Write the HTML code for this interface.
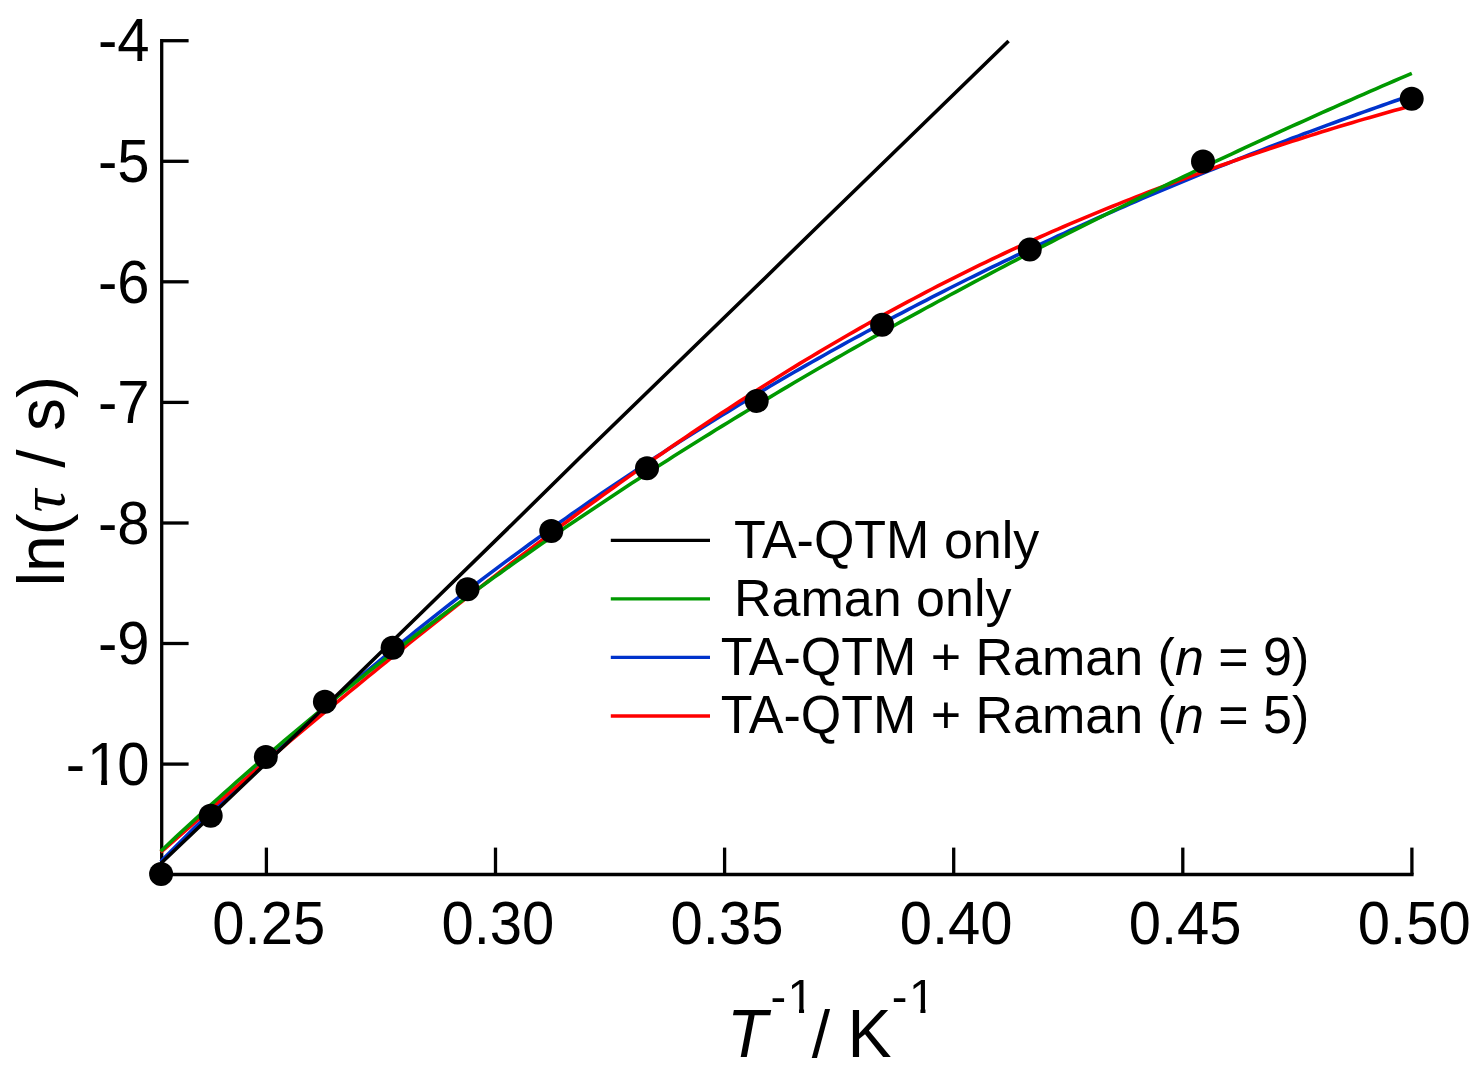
<!DOCTYPE html><html><head><meta charset="utf-8"><title>Relaxation time plot</title>
<style>html,body{margin:0;padding:0;background:#fff;}body{width:1483px;height:1083px;overflow:hidden;}svg{display:block;}text{font-family:"Liberation Sans",Arial,Helvetica,sans-serif;fill:#000;}</style></head><body>
<svg width="1483" height="1083" viewBox="0 0 1483 1083">
<rect width="1483" height="1083" fill="#fff"/>
<g stroke="#000" stroke-width="3.3" fill="none" stroke-linecap="butt">
<path d="M161.7 39.1 V874.5 H1413.6"/>
<path d="M161.7 764.1 H188.6"/>
<path d="M161.7 643.5 H188.6"/>
<path d="M161.7 523.0 H188.6"/>
<path d="M161.7 402.4 H188.6"/>
<path d="M161.7 281.8 H188.6"/>
<path d="M161.7 161.3 H188.6"/>
<path d="M161.7 40.7 H188.6"/>
<path d="M266.4 874.5 V847.6"/>
<path d="M495.5 874.5 V847.6"/>
<path d="M724.6 874.5 V847.6"/>
<path d="M953.7 874.5 V847.6"/>
<path d="M1182.8 874.5 V847.6"/>
<path d="M1411.9 874.5 V847.6"/>
</g>
<g fill="none" stroke-width="3.6" stroke-linejoin="round" stroke-linecap="butt">
<polyline stroke="#0033cc" points="160.7,861.7 164.0,858.3 170.0,852.3 176.0,846.2 182.0,840.3 188.0,834.3 194.0,828.4 200.0,822.5 206.0,816.7 212.0,810.8 218.0,805.1 224.0,799.3 230.0,793.6 236.0,787.9 242.0,782.2 248.0,776.6 254.0,771.0 260.0,765.5 266.0,759.9 272.0,754.4 278.0,749.0 284.0,743.5 290.0,738.1 296.0,732.7 302.0,727.4 308.0,722.0 314.0,716.7 320.0,711.5 326.0,706.2 332.0,701.0 338.0,695.8 344.0,690.7 350.0,685.6 356.0,680.5 362.0,675.4 368.0,670.3 374.0,665.3 380.0,660.3 386.0,655.4 392.0,650.4 398.0,645.5 404.0,640.6 410.0,635.8 416.0,630.9 422.0,626.1 428.0,621.4 434.0,616.6 440.0,611.9 446.0,607.2 452.0,602.5 458.0,597.8 464.0,593.2 470.0,588.6 476.0,584.0 482.0,579.4 488.0,574.9 494.0,570.4 500.0,565.9 506.0,561.4 512.0,557.0 518.0,552.6 524.0,548.2 530.0,543.8 536.0,539.5 542.0,535.1 548.0,530.8 554.0,526.5 560.0,522.3 566.0,518.1 572.0,513.8 578.0,509.6 584.0,505.5 590.0,501.3 596.0,497.2 602.0,493.1 608.0,489.0 614.0,484.9 620.0,480.9 626.0,476.9 632.0,472.9 638.0,468.9 644.0,464.9 650.0,461.0 656.0,457.1 662.0,453.2 668.0,449.3 674.0,445.4 680.0,441.6 686.0,437.8 692.0,434.0 698.0,430.2 704.0,426.4 710.0,422.7 716.0,419.0 722.0,415.3 728.0,411.6 734.0,407.9 740.0,404.3 746.0,400.7 752.0,397.0 758.0,393.5 764.0,389.9 770.0,386.3 776.0,382.8 782.0,379.3 788.0,375.8 794.0,372.3 800.0,368.9 806.0,365.4 812.0,362.0 818.0,358.6 824.0,355.2 830.0,351.8 836.0,348.5 842.0,345.2 848.0,341.8 854.0,338.5 860.0,335.3 866.0,332.0 872.0,328.8 878.0,325.5 884.0,322.3 890.0,319.1 896.0,315.9 902.0,312.8 908.0,309.6 914.0,306.5 920.0,303.4 926.0,300.3 932.0,297.2 938.0,294.1 944.0,291.1 950.0,288.0 956.0,285.0 962.0,282.0 968.0,279.0 974.0,276.1 980.0,273.1 986.0,270.2 992.0,267.2 998.0,264.3 1004.0,261.4 1010.0,258.6 1016.0,255.7 1022.0,252.8 1028.0,250.0 1034.0,247.2 1040.0,244.4 1046.0,241.6 1052.0,238.8 1058.0,236.0 1064.0,233.3 1070.0,230.5 1076.0,227.8 1082.0,225.1 1088.0,222.4 1094.0,219.7 1100.0,217.0 1106.0,214.4 1112.0,211.8 1118.0,209.1 1124.0,206.5 1130.0,203.9 1136.0,201.3 1142.0,198.7 1148.0,196.2 1154.0,193.6 1160.0,191.1 1166.0,188.6 1172.0,186.0 1178.0,183.5 1184.0,181.1 1190.0,178.6 1196.0,176.1 1202.0,173.7 1208.0,171.2 1214.0,168.8 1220.0,166.4 1226.0,164.0 1232.0,161.6 1238.0,159.2 1244.0,156.9 1250.0,154.5 1256.0,152.2 1262.0,149.8 1268.0,147.5 1274.0,145.2 1280.0,142.9 1286.0,140.6 1292.0,138.3 1298.0,136.1 1304.0,133.8 1310.0,131.6 1316.0,129.4 1322.0,127.1 1328.0,124.9 1334.0,122.7 1340.0,120.5 1346.0,118.4 1352.0,116.2 1358.0,114.0 1364.0,111.9 1370.0,109.8 1376.0,107.6 1382.0,105.5 1388.0,103.4 1394.0,101.3 1400.0,99.2 1406.0,97.2 1411.8,95.2"/>
<polyline stroke="#ff0000" points="160.7,852.2 164.0,849.3 170.0,844.1 176.0,838.8 182.0,833.6 188.0,828.4 194.0,823.2 200.0,818.0 206.0,812.8 212.0,807.6 218.0,802.4 224.0,797.3 230.0,792.1 236.0,787.0 242.0,781.9 248.0,776.8 254.0,771.6 260.0,766.5 266.0,761.5 272.0,756.4 278.0,751.3 284.0,746.3 290.0,741.2 296.0,736.2 302.0,731.2 308.0,726.2 314.0,721.2 320.0,716.2 326.0,711.2 332.0,706.2 338.0,701.3 344.0,696.3 350.0,691.4 356.0,686.5 362.0,681.6 368.0,676.7 374.0,671.8 380.0,666.9 386.0,662.0 392.0,657.2 398.0,652.3 404.0,647.5 410.0,642.7 416.0,637.9 422.0,633.1 428.0,628.3 434.0,623.6 440.0,618.8 446.0,614.1 452.0,609.3 458.0,604.6 464.0,599.9 470.0,595.2 476.0,590.6 482.0,585.9 488.0,581.2 494.0,576.6 500.0,572.0 506.0,567.4 512.0,562.8 518.0,558.2 524.0,553.7 530.0,549.1 536.0,544.6 542.0,540.1 548.0,535.6 554.0,531.1 560.0,526.6 566.0,522.2 572.0,517.8 578.0,513.3 584.0,508.9 590.0,504.6 596.0,500.2 602.0,495.8 608.0,491.5 614.0,487.2 620.0,482.9 626.0,478.6 632.0,474.4 638.0,470.1 644.0,465.9 650.0,461.7 656.0,457.5 662.0,453.4 668.0,449.2 674.0,445.1 680.0,441.0 686.0,436.9 692.0,432.8 698.0,428.8 704.0,424.8 710.0,420.8 716.0,416.8 722.0,412.8 728.0,408.9 734.0,405.0 740.0,401.1 746.0,397.2 752.0,393.4 758.0,389.6 764.0,385.8 770.0,382.0 776.0,378.2 782.0,374.5 788.0,370.8 794.0,367.1 800.0,363.4 806.0,359.8 812.0,356.2 818.0,352.6 824.0,349.0 830.0,345.5 836.0,342.0 842.0,338.5 848.0,335.0 854.0,331.6 860.0,328.1 866.0,324.7 872.0,321.4 878.0,318.0 884.0,314.7 890.0,311.4 896.0,308.1 902.0,304.9 908.0,301.7 914.0,298.5 920.0,295.3 926.0,292.1 932.0,289.0 938.0,285.9 944.0,282.8 950.0,279.8 956.0,276.8 962.0,273.8 968.0,270.8 974.0,267.9 980.0,264.9 986.0,262.1 992.0,259.2 998.0,256.3 1004.0,253.5 1010.0,250.7 1016.0,247.9 1022.0,245.2 1028.0,242.4 1034.0,239.7 1040.0,237.0 1046.0,234.4 1052.0,231.7 1058.0,229.1 1064.0,226.5 1070.0,223.9 1076.0,221.4 1082.0,218.9 1088.0,216.3 1094.0,213.8 1100.0,211.4 1106.0,208.9 1112.0,206.5 1118.0,204.1 1124.0,201.7 1130.0,199.3 1136.0,197.0 1142.0,194.6 1148.0,192.3 1154.0,190.0 1160.0,187.7 1166.0,185.4 1172.0,183.2 1178.0,181.0 1184.0,178.8 1190.0,176.6 1196.0,174.4 1202.0,172.2 1208.0,170.1 1214.0,167.9 1220.0,165.8 1226.0,163.7 1232.0,161.6 1238.0,159.5 1244.0,157.4 1250.0,155.4 1256.0,153.4 1262.0,151.3 1268.0,149.3 1274.0,147.3 1280.0,145.3 1286.0,143.4 1292.0,141.4 1298.0,139.5 1304.0,137.5 1310.0,135.6 1316.0,133.7 1322.0,131.8 1328.0,130.0 1334.0,128.1 1340.0,126.3 1346.0,124.5 1352.0,122.7 1358.0,120.9 1364.0,119.1 1370.0,117.4 1376.0,115.7 1382.0,114.0 1388.0,112.3 1394.0,110.6 1400.0,109.0 1406.0,107.3 1411.8,105.8"/>
<polyline stroke="#009900" points="160.7,851.3 164.0,848.2 170.0,842.5 176.0,836.9 182.0,831.3 188.0,825.8 194.0,820.3 200.0,814.8 206.0,809.3 212.0,803.9 218.0,798.5 224.0,793.1 230.0,787.8 236.0,782.4 242.0,777.2 248.0,771.9 254.0,766.7 260.0,761.5 266.0,756.3 272.0,751.1 278.0,746.0 284.0,740.9 290.0,735.9 296.0,730.8 302.0,725.8 308.0,720.8 314.0,715.8 320.0,710.9 326.0,706.0 332.0,701.1 338.0,696.2 344.0,691.4 350.0,686.6 356.0,681.8 362.0,677.0 368.0,672.2 374.0,667.5 380.0,662.8 386.0,658.1 392.0,653.5 398.0,648.8 404.0,644.2 410.0,639.6 416.0,635.0 422.0,630.5 428.0,626.0 434.0,621.5 440.0,617.0 446.0,612.5 452.0,608.0 458.0,603.6 464.0,599.2 470.0,594.8 476.0,590.4 482.0,586.1 488.0,581.8 494.0,577.4 500.0,573.2 506.0,568.9 512.0,564.6 518.0,560.4 524.0,556.2 530.0,552.0 536.0,547.8 542.0,543.6 548.0,539.5 554.0,535.3 560.0,531.2 566.0,527.1 572.0,523.0 578.0,519.0 584.0,514.9 590.0,510.9 596.0,506.9 602.0,502.9 608.0,498.9 614.0,494.9 620.0,491.0 626.0,487.0 632.0,483.1 638.0,479.2 644.0,475.3 650.0,471.5 656.0,467.6 662.0,463.8 668.0,459.9 674.0,456.1 680.0,452.3 686.0,448.5 692.0,444.8 698.0,441.0 704.0,437.3 710.0,433.6 716.0,429.8 722.0,426.1 728.0,422.5 734.0,418.8 740.0,415.1 746.0,411.5 752.0,407.9 758.0,404.2 764.0,400.6 770.0,397.1 776.0,393.5 782.0,389.9 788.0,386.4 794.0,382.8 800.0,379.3 806.0,375.8 812.0,372.3 818.0,368.8 824.0,365.3 830.0,361.9 836.0,358.4 842.0,355.0 848.0,351.5 854.0,348.1 860.0,344.7 866.0,341.3 872.0,337.9 878.0,334.6 884.0,331.2 890.0,327.9 896.0,324.5 902.0,321.2 908.0,317.9 914.0,314.6 920.0,311.3 926.0,308.0 932.0,304.8 938.0,301.5 944.0,298.3 950.0,295.0 956.0,291.8 962.0,288.6 968.0,285.4 974.0,282.2 980.0,279.0 986.0,275.8 992.0,272.7 998.0,269.5 1004.0,266.4 1010.0,263.2 1016.0,260.1 1022.0,257.0 1028.0,253.9 1034.0,250.8 1040.0,247.7 1046.0,244.6 1052.0,241.6 1058.0,238.5 1064.0,235.5 1070.0,232.4 1076.0,229.4 1082.0,226.4 1088.0,223.4 1094.0,220.4 1100.0,217.4 1106.0,214.4 1112.0,211.4 1118.0,208.5 1124.0,205.5 1130.0,202.6 1136.0,199.6 1142.0,196.7 1148.0,193.8 1154.0,190.9 1160.0,188.0 1166.0,185.1 1172.0,182.2 1178.0,179.3 1184.0,176.5 1190.0,173.6 1196.0,170.7 1202.0,167.9 1208.0,165.1 1214.0,162.2 1220.0,159.4 1226.0,156.6 1232.0,153.8 1238.0,151.0 1244.0,148.2 1250.0,145.4 1256.0,142.7 1262.0,139.9 1268.0,137.1 1274.0,134.4 1280.0,131.7 1286.0,128.9 1292.0,126.2 1298.0,123.5 1304.0,120.8 1310.0,118.1 1316.0,115.4 1322.0,112.7 1328.0,110.0 1334.0,107.3 1340.0,104.7 1346.0,102.0 1352.0,99.4 1358.0,96.7 1364.0,94.1 1370.0,91.4 1376.0,88.8 1382.0,86.2 1388.0,83.6 1394.0,81.0 1400.0,78.4 1406.0,75.8 1411.8,73.3"/>
<polyline stroke="#000" points="161.0,863.3 254.0,774.8 316.0,715.5 422.0,612.2 511.4,525.0 580.0,457.5 752.9,289.8 820.0,224.2 1008.6,41.0"/>
</g>
<g fill="#000">
<circle cx="161.1" cy="874.0" r="12"/>
<circle cx="210.7" cy="815.7" r="12"/>
<circle cx="265.8" cy="757.0" r="12"/>
<circle cx="324.9" cy="701.8" r="12"/>
<circle cx="392.6" cy="647.7" r="12"/>
<circle cx="467.5" cy="589.3" r="12"/>
<circle cx="551.3" cy="531.0" r="12"/>
<circle cx="647.0" cy="468.2" r="12"/>
<circle cx="756.7" cy="400.9" r="12"/>
<circle cx="882.1" cy="324.8" r="12"/>
<circle cx="1029.8" cy="249.6" r="12"/>
<circle cx="1203.0" cy="161.5" r="12"/>
<circle cx="1411.7" cy="98.8" r="12"/>
</g>
<defs><clipPath id="c0"><path clip-rule="evenodd" d="M-50 -116.0 H348.0 V58.0 H-50 Z M24.15 -5.33 H35.41 V2 H24.15 Z M41.43 -5.33 H52.15 V2 H41.43 Z"/></clipPath><clipPath id="c1"><path clip-rule="evenodd" d="M-50 -94.0 H282.0 V47.0 H-50 Z M19.27 -4.51 H28.61 V2 H19.27 Z M33.66 -4.51 H42.53 V2 H33.66 Z"/></clipPath><clipPath id="c2"><path clip-rule="evenodd" d="M-50 -94.0 H282.0 V47.0 H-50 Z M19.27 -4.51 H28.61 V2 H19.27 Z M33.66 -4.51 H42.53 V2 H33.66 Z"/></clipPath></defs>
<g transform="translate(65.67 784.8) scale(1 1.040)"><text font-size="58" dx="0 1.91 -1.91" clip-path="url(#c0)">-10</text></g>
<g transform="translate(97.92 664.2) scale(1 1.040)"><text font-size="58">-9</text></g>
<g transform="translate(97.92 543.7) scale(1 1.040)"><text font-size="58">-8</text></g>
<g transform="translate(97.92 423.1) scale(1 1.040)"><text font-size="58">-7</text></g>
<g transform="translate(97.92 302.5) scale(1 1.040)"><text font-size="58">-6</text></g>
<g transform="translate(97.92 182.0) scale(1 1.040)"><text font-size="58">-5</text></g>
<g transform="translate(97.92 61.4) scale(1 1.040)"><text font-size="58">-4</text></g>
<g transform="translate(212.35 943.6) scale(1 1.040)"><text font-size="58">0.25</text></g>
<g transform="translate(441.45 943.6) scale(1 1.040)"><text font-size="58">0.30</text></g>
<g transform="translate(670.55 943.6) scale(1 1.040)"><text font-size="58">0.35</text></g>
<g transform="translate(899.65 943.6) scale(1 1.040)"><text font-size="58">0.40</text></g>
<g transform="translate(1128.75 943.6) scale(1 1.040)"><text font-size="58">0.45</text></g>
<g transform="translate(1357.85 943.6) scale(1 1.040)"><text font-size="58">0.50</text></g>
<g transform="translate(727.00 1057.1) scale(1 1.040)"><text font-size="66" font-style="italic">T</text></g>
<g transform="translate(770.40 1013.1) scale(1 1.040)"><text font-size="47" dx="0 1.55" clip-path="url(#c1)">-1</text></g>
<text x="811.80" y="1057.1" font-size="66">/</text>
<g transform="translate(847.60 1057.1) scale(1 1.040)"><text font-size="66">K</text></g>
<g transform="translate(891.80 1013.1) scale(1 1.040)"><text font-size="47" dx="0 1.55" clip-path="url(#c2)">-1</text></g>
<g transform="translate(734.00 557.5) scale(1 1.040)"><text font-size="52">TA-QTM</text></g>
<text x="943.88" y="557.5" font-size="52">only</text>
<text x="734.00" y="616.0" font-size="52">Raman</text>
<text x="916.06" y="616.0" font-size="52">only</text>
<g transform="translate(720.80 674.5) scale(1 1.040)"><text font-size="52">TA-QTM</text></g>
<text x="930.67" y="674.5" font-size="52">+</text>
<text x="975.49" y="674.5" font-size="52">Raman</text>
<text x="1157.57" y="674.5" font-size="52">(</text>
<text x="1174.89" y="674.5" font-size="52" font-style="italic">n</text>
<text x="1218.25" y="674.5" font-size="52">=</text>
<g transform="translate(1263.07 674.5) scale(1 1.040)"><text font-size="52">9</text></g>
<text x="1291.99" y="674.5" font-size="52">)</text>
<g transform="translate(720.80 732.7) scale(1 1.040)"><text font-size="52">TA-QTM</text></g>
<text x="930.67" y="732.7" font-size="52">+</text>
<text x="975.49" y="732.7" font-size="52">Raman</text>
<text x="1157.57" y="732.7" font-size="52">(</text>
<text x="1174.89" y="732.7" font-size="52" font-style="italic">n</text>
<text x="1218.25" y="732.7" font-size="52">=</text>
<g transform="translate(1263.07 732.7) scale(1 1.040)"><text font-size="52">5</text></g>
<text x="1291.99" y="732.7" font-size="52">)</text>
<g transform="translate(64.4 586.6) rotate(-90)">
<text x="0.00" y="0.0" font-size="66">ln</text>
<text x="51.36" y="0.0" font-size="66">(</text>
<text x="118.93" y="0.0" font-size="66">/</text>
<text x="155.60" y="0.0" font-size="66">s</text>
<text x="188.60" y="0.0" font-size="66">)</text>
<text x="74.1" y="0" font-size="64" font-style="italic" style="font-family:'Liberation Serif','Times New Roman',serif">τ</text>
</g>
<g stroke-width="3.4" fill="none">
<path stroke="#000" d="M610.8 540.4 H710"/>
<path stroke="#009900" d="M610.8 598.9 H710"/>
<path stroke="#0033cc" d="M610.8 657.4 H710"/>
<path stroke="#ff0000" d="M610.8 716.0 H710"/>
</g>
</svg></body></html>
